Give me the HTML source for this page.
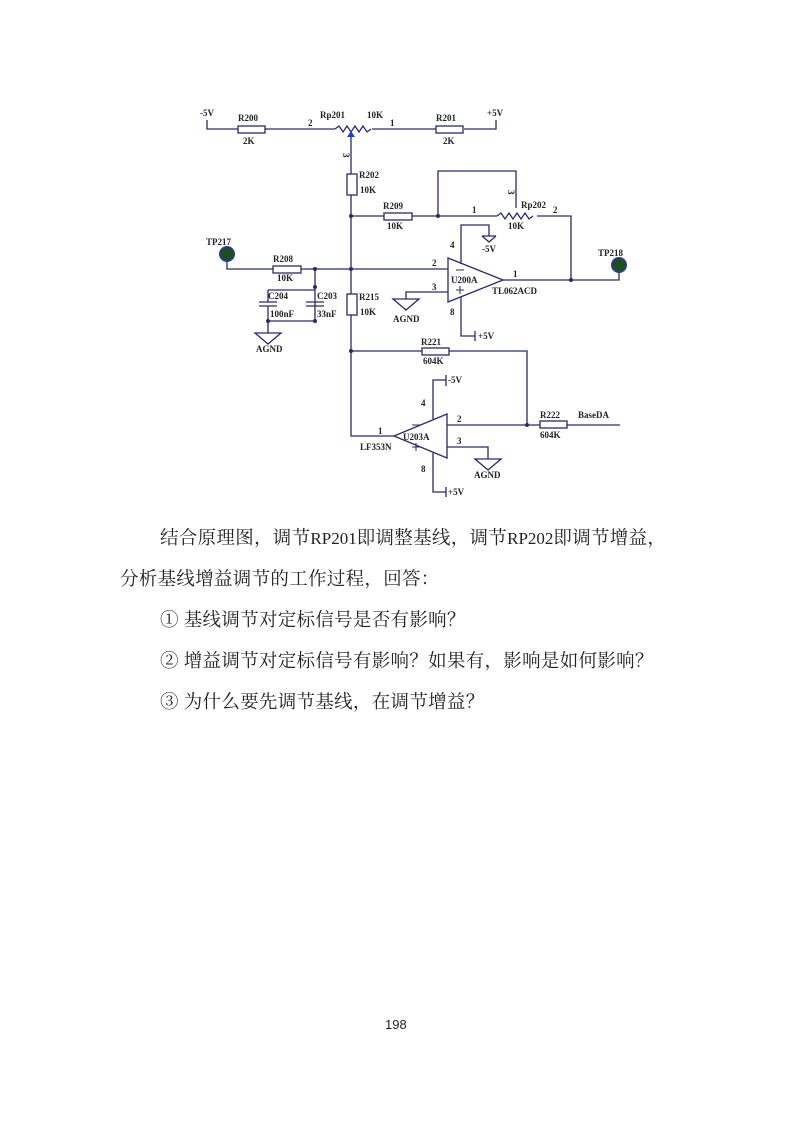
<!DOCTYPE html>
<html><head><meta charset="utf-8"><style>
html,body{margin:0;padding:0;background:#fff;}
body{width:793px;height:1122px;position:relative;overflow:hidden;}
.t{position:absolute;font-family:"Liberation Serif","Noto Serif CJK SC",serif;font-size:18.5px;color:#222;white-space:nowrap;letter-spacing:0.3px;}
.t span{font-size:17px;letter-spacing:0;}
svg text{font-family:"Liberation Serif",serif;font-weight:bold;font-size:9px;fill:#222;}
</style></head><body>
<svg width="793" height="1122" style="position:absolute;left:0;top:0">
<g stroke="#2a2a6a" stroke-width="1.3" fill="none">
<path d="M207 120 V129 H238 M265 129 H335 M372 129 H436 M464 129 H496 V120"/>
<rect x="238" y="126" width="27" height="7"/>
<rect x="436" y="126" width="27" height="7"/>
<path d="M335 129 l4 -3 l4 6 l4 -6 l4 6 l4 -6 l4 6 l4 -6 l4 6 l4 -3"/>
<path d="M351 133 V174 M351 195 V294 M351 315 V436 H394"/>
<rect x="347" y="174" width="10" height="21"/>
<rect x="347" y="294" width="10" height="21"/>
<path d="M351 216 H384 M412 216 H497 M537 216 H571 V280 M438 216 V171 H516 V208"/>
<rect x="384" y="213" width="28" height="7"/>
<path d="M497 216 l4 -3 l4 6 l4 -6 l4 6 l4 -6 l4 6 l4 -6 l4 6 l4 -3"/>
<path d="M227 261 V269 H273 M301 269 H448 M315 269 V321 M268 290 V302 M268 306 V321 H315 M268 321 V333"/>
<rect x="273" y="266" width="28" height="7"/>
<path d="M259 302 H277 M259 306 H277 M306 302 H324 M306 306 H324"/>
<path d="M255 333 H281 L268 344 Z"/>
<path d="M268 290 H315"/>
<path d="M448 258 V302 L503 280 Z"/>
<path d="M503 280 H619 V272 M461 264 V225 H489 V236 M482 236 H496 M448 292 H406 V299 M393 299 H419 L406 310 Z M461 297 V336 H475 M475 331 V341"/>
<path d="M482 236 L489 242 L496 236"/>
<path d="M351 351 H422 M449 351 H527 V425"/>
<rect x="422" y="348" width="27" height="7"/>
<path d="M447 414 V458 L394 436 Z"/>
<path d="M447 425 H540 M567 425 H620 M433 419 V380 H446 M446 375 V386 M447 447 H488 V459 M475 459 H501 L488 470 Z M433 453 V492 H446 M446 487 V497"/>
<rect x="540" y="421" width="27" height="7"/>
</g>
<g fill="#2a2a6a">
<circle cx="351" cy="216" r="2"/><circle cx="438" cy="216" r="2"/><circle cx="351" cy="269" r="2"/><circle cx="315" cy="269" r="2"/><circle cx="315" cy="287" r="2"/><circle cx="268" cy="321" r="2"/><circle cx="315" cy="321" r="2"/><circle cx="571" cy="280" r="2"/><circle cx="351" cy="351" r="2"/><circle cx="527" cy="425" r="2"/>
</g>
<path d="M347 137 L351 131 L355 137 Z" fill="#1e3ccf"/>
<circle cx="227" cy="254" r="7" fill="#1e4d1e" stroke="#2a3c80" stroke-width="2"/>
<circle cx="619" cy="265" r="7" fill="#1e4d1e" stroke="#2a3c80" stroke-width="2"/>
<g stroke="#2a2a6a" fill="none" stroke-width="1"><path d="M456 270 H464 M456 290 H464 M460 286 V294 M412 425 H420 M412 447 H420 M416 443 V451"/></g>
<text x="200" y="116">-5V</text><text x="238" y="121">R200</text><text x="243" y="144">2K</text>
<text x="308" y="126">2</text><text x="320" y="118">Rp201</text><text x="367" y="118">10K</text>
<text x="390" y="126">1</text><text x="436" y="121">R201</text><text x="443" y="144">2K</text><text x="487" y="116">+5V</text>
<text x="343" y="153" transform="rotate(90 343 153)">3</text>
<text x="359" y="178">R202</text><text x="360" y="193">10K</text>
<text x="383" y="209">R209</text><text x="387" y="229">10K</text>
<text x="472" y="213">1</text><text x="521" y="208">Rp202</text><text x="553" y="213">2</text><text x="508" y="229">10K</text>
<text x="508" y="190" transform="rotate(90 508 190)">3</text>
<text x="482" y="252">-5V</text><text x="450" y="248">4</text>
<text x="206" y="245">TP217</text><text x="598" y="256">TP218</text>
<text x="273" y="262">R208</text><text x="277" y="281">10K</text>
<text x="432" y="266">2</text><text x="432" y="290">3</text><text x="513" y="277">1</text>
<text x="451" y="283">U200A</text><text x="492" y="294">TL062ACD</text>
<text x="268" y="299">C204</text><text x="317" y="299">C203</text><text x="270" y="317">100nF</text><text x="317" y="317">33nF</text>
<text x="359" y="300">R215</text><text x="360" y="315">10K</text>
<text x="393" y="322">AGND</text><text x="256" y="352">AGND</text>
<text x="450" y="315">8</text><text x="478" y="339">+5V</text>
<text x="421" y="345">R221</text><text x="423" y="364">604K</text>
<text x="448" y="383">-5V</text><text x="421" y="406">4</text>
<text x="378" y="434">1</text><text x="457" y="422">2</text><text x="457" y="444">3</text>
<text x="403" y="440">U203A</text><text x="360" y="450">LF353N</text>
<text x="540" y="418">R222</text><text x="578" y="418">BaseDA</text><text x="540" y="438">604K</text>
<text x="474" y="478">AGND</text><text x="421" y="472">8</text><text x="448" y="495">+5V</text>
</svg>
<div class="t" style="left:160px;top:524px">结合原理图，调节<span>RP201</span>即调整基线，调节<span>RP202</span>即调节增益，</div>
<div class="t" style="left:120px;top:565px">分析基线增益调节的工作过程，回答：</div>
<div class="t" style="left:160px;top:606px">① 基线调节对定标信号是否有影响？</div>
<div class="t" style="left:160px;top:647px">② 增益调节对定标信号有影响？如果有，影响是如何影响？</div>
<div class="t" style="left:160px;top:688px">③ 为什么要先调节基线，在调节增益？</div>
<div style="position:absolute;left:385px;top:1017px;font-family:'Liberation Sans',sans-serif;font-size:13px;color:#222">198</div>
</body></html>
